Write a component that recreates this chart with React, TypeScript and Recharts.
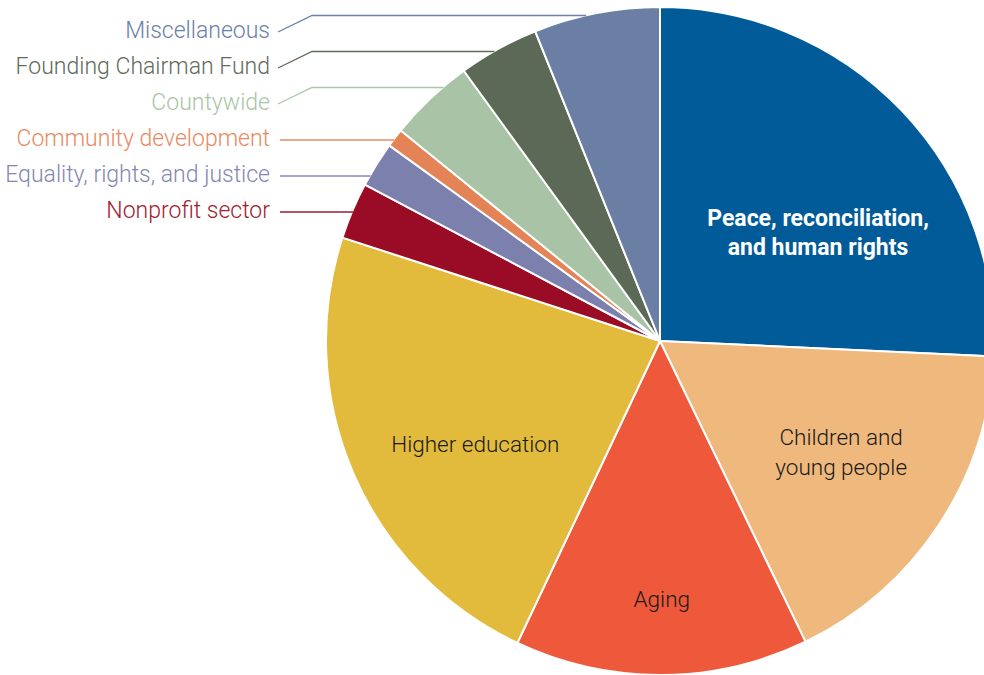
import React from "react";
import { PieChart, Pie, Cell } from "recharts";

const categories = [
  "Peace, reconciliation, and human rights",
  "Children and young people",
  "Aging",
  "Higher education",
  "Nonprofit sector",
  "Equality, rights, and justice",
  "Community development",
  "Countywide",
  "Founding Chairman Fund",
  "Miscellaneous",
];
const shares = [25.75, 17.1, 14.2, 23.0, 2.75, 2.2, 0.9, 4.15, 3.9, 6.1];
const sliceColors = [
  "#005b98",
  "#efb97d",
  "#ee593b",
  "#e2bb3d",
  "#9a0c25",
  "#7c80ad",
  "#e38356",
  "#a8c3a5",
  "#5d6957",
  "#6a7fa3",
];
const outsideTextColors = {
  4: "#a11a31",
  5: "#8387b3",
  6: "#e88a60",
  7: "#a9c6a6",
  8: "#5f6b59",
  9: "#6b80a6",
};
const insideLines = {
  0: ["Peace, reconciliation,", "and human rights"],
  1: ["Children and", "young people"],
  2: ["Aging"],
  3: ["Higher education"],
};

const data = categories.map((name, i) => ({ name, value: shares[i] }));

// polar placement of inside labels (radius px, angle deg)
const insidePlacement = {
  0: { r: 192, a: 34.6 },
  1: { r: 212, a: -31.3 },
  2: { r: 257, a: -89.6 },
  3: { r: 211, a: -151.1 },
};

const FONT = "Roboto, 'Noto Sans', sans-serif";

const renderLabel = (props: any) => {
  const { cx, cy, outerRadius, index } = props;
  if (index <= 3) {
    const p = (insidePlacement as any)[index];
    const rad = (p.a * Math.PI) / 180;
    const x = cx + p.r * Math.cos(rad);
    const y = cy + 1 - p.r * Math.sin(rad);
    const lines = (insideLines as any)[index] as string[];
    const lh = 29.5;
    const y0 = y - ((lines.length - 1) * lh) / 2;
    const isBold = index === 0;
    return (
      <g key={`in-${index}`}>
        {lines.map((t, k) => (
          <text
            key={k}
            x={x}
            y={y0 + k * lh}
            textAnchor="middle"
            dominantBaseline="central"
            fontFamily={FONT}
            fontSize={isBold ? 23 : 22.5}
            fontWeight={isBold ? 700 : 300}
            fill={isBold ? "#ffffff" : "#1a1a1a"}
          >
            {t}
          </text>
        ))}
      </g>
    );
  }
  const slot = 9 - index;
  const ty = 30 + slot * 36;
  const ly = ty + 2;
  const color = (outsideTextColors as any)[index];
  const diag = slot <= 2;
  const hy = diag ? ly - 16.5 : ly;
  const dyc = cy - hy;
  const xEdge = cx - Math.sqrt(Math.max(outerRadius * outerRadius - dyc * dyc, 0)) + 1;
  const pts = diag
    ? `278,${ly} 312,${hy} ${xEdge},${hy}`
    : `280,${ly} ${xEdge},${hy}`;
  return (
    <g key={`out-${index}`}>
      <text
        x={270}
        y={ty}
        textAnchor="end"
        dominantBaseline="central"
        fontFamily={FONT}
        fontSize={23}
        fontWeight={300}
        fill={color}
      >
        {categories[index]}
      </text>
      <polyline points={pts} fill="none" stroke={color} strokeWidth={1.3} />
    </g>
  );
};

export default function App() {
  return (
    <div style={{ position: "absolute", left: 0, top: 0, width: 984, height: 675, background: "#fff" }}>
      <PieChart width={984} height={675} margin={{ top: 0, right: 0, bottom: 0, left: 0 }}>
        <Pie
          data={data}
          dataKey="value"
          nameKey="name"
          cx={660}
          cy={341}
          outerRadius={334}
          innerRadius={0}
          startAngle={90}
          endAngle={-270}
          stroke="#ffffff"
          strokeWidth={2}
          label={renderLabel}
          labelLine={false}
          isAnimationActive={false}
        >
          {data.map((d, i) => (
            <Cell key={d.name} fill={sliceColors[i]} />
          ))}
        </Pie>
      </PieChart>
    </div>
  );
}
